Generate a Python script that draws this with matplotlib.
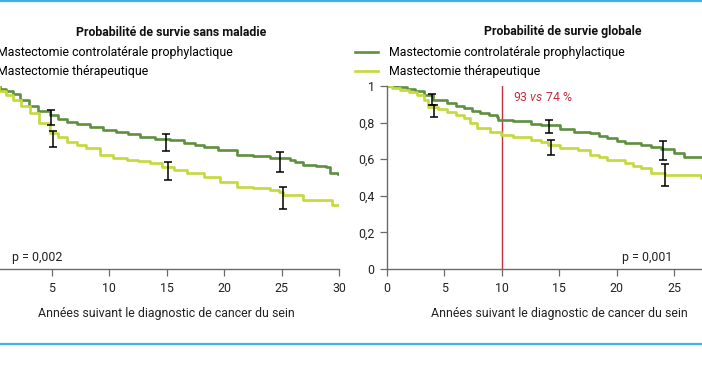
import matplotlib
matplotlib.use("Agg")
import matplotlib.pyplot as plt
from matplotlib.lines import Line2D
import numpy as np

plt.rcParams['font.family'] = ['Roboto', 'DejaVu Sans']
plt.rcParams['mathtext.fontset'] = 'custom'
plt.rcParams['mathtext.rm'] = 'Roboto'
plt.rcParams['mathtext.it'] = 'Roboto:italic'

# --- data ---
labels = ["Mastectomie controlatérale prophylactique", "Mastectomie thérapeutique"]
xticks = [0, 5, 10, 15, 20, 25, 30]
yticks = [0, 0.2, 0.4, 0.6, 0.8, 1]
ytick_labels = ["0", "0,2", "0,4", "0,6", "0,8", "1"]

# survie sans maladie
dfs_cpm_t = [0, 0.5, 1.0, 1.6, 2.2, 3.0, 3.8, 4.8, 5.5, 6.3, 7.2, 8.3, 9.4, 10.6, 11.6, 12.7,
             14.0, 15.3, 16.5, 17.5, 18.2, 19.5, 21.1, 22.5, 24.0, 25.7, 26.2, 26.9, 28.0,
             28.9, 29.2, 29.9]
dfs_cpm_s = [1.0, 0.985, 0.97, 0.955, 0.925, 0.89, 0.865, 0.842, 0.822, 0.805, 0.79, 0.778,
             0.762, 0.75, 0.735, 0.723, 0.71, 0.703, 0.69, 0.68, 0.668, 0.648, 0.625, 0.615,
             0.605, 0.596, 0.585, 0.568, 0.565, 0.556, 0.523, 0.519]
dfs_tm_t = [0, 0.4, 1.0, 1.6, 2.3, 3.1, 3.9, 4.8, 5.5, 6.3, 7.2, 8.0, 9.2, 10.3, 11.5, 12.5,
            13.5, 14.6, 15.6, 16.8, 18.2, 19.6, 21.1, 22.5, 24.0, 24.8, 25.1, 26.9, 29.4, 29.9]
dfs_tm_s = [1.0, 0.975, 0.95, 0.923, 0.89, 0.851, 0.8, 0.742, 0.72, 0.696, 0.675, 0.659,
            0.623, 0.608, 0.596, 0.588, 0.578, 0.56, 0.541, 0.525, 0.504, 0.478, 0.45, 0.44,
            0.432, 0.42, 0.404, 0.377, 0.35, 0.35]

# survie globale
os_cpm_t = [0, 0.85, 1.7, 2.4, 3.2, 4.05, 5.2, 6.0, 6.7, 7.4, 8.1, 8.9, 9.6, 9.7, 11.0, 12.5,
            13.4, 14.2, 15.1, 16.3, 17.7, 18.5, 19.2, 20.0, 20.7, 22.1, 23.0, 23.9, 25.0,
            25.9, 27.4, 27.6]
os_cpm_s = [1.0, 0.995, 0.985, 0.97, 0.951, 0.923, 0.905, 0.89, 0.878, 0.864, 0.851, 0.84,
            0.829, 0.814, 0.81, 0.79, 0.787, 0.787, 0.763, 0.747, 0.741, 0.728, 0.714, 0.7,
            0.687, 0.678, 0.665, 0.656, 0.632, 0.614, 0.61, 0.586]
os_tm_t = [0, 0.4, 1.14, 1.9, 2.6, 3.2, 3.6, 4.4, 5.2, 6.0, 6.7, 7.2, 7.8, 9.0, 9.9, 11.0,
           12.5, 13.4, 14.0, 15.1, 16.6, 17.7, 18.5, 19.2, 20.7, 21.4, 22.1, 23.0, 24.2,
           27.35, 27.6]
os_tm_s = [1.0, 0.99, 0.978, 0.965, 0.951, 0.923, 0.887, 0.875, 0.86, 0.842, 0.823, 0.8,
           0.769, 0.75, 0.732, 0.723, 0.705, 0.695, 0.678, 0.659, 0.65, 0.623, 0.61, 0.596,
           0.577, 0.565, 0.55, 0.523, 0.514, 0.496, 0.496]

# intervalles de confiance
dfs_cpm_ci_x = [4.95, 14.9, 24.9]
dfs_cpm_ci_lo = [0.787, 0.645, 0.532]
dfs_cpm_ci_hi = [0.869, 0.736, 0.641]
dfs_tm_ci_x = [5.1, 15.1, 25.1]
dfs_tm_ci_lo = [0.668, 0.486, 0.328]
dfs_tm_ci_hi = [0.754, 0.583, 0.45]
os_cpm_ci_x = [3.9, 14.1, 24.05]
os_cpm_ci_lo = [0.896, 0.741, 0.596]
os_cpm_ci_hi = [0.956, 0.814, 0.70]
os_tm_ci_x = [4.1, 14.25, 24.25]
os_tm_ci_lo = [0.832, 0.623, 0.454]
os_tm_ci_hi = [0.896, 0.705, 0.572]

dark = '#5e8f3f'
light = '#c4d93c'
red = '#c3303f'
blue = '#3fb4e2'
grey = '#6a6a6a'
fs = 8.9

W, H = 702, 370
fig = plt.figure(figsize=(W / 100, H / 100), dpi=100)


def frac(x0, y0, x1, y1):
    # pixel box (top-left origin) -> figure fraction rect
    return [x0 / W, (H - y1) / H, (x1 - x0) / W, (y1 - y0) / H]


ax1 = fig.add_axes(frac(-5.4, 86, 339, 269))
ax2 = fig.add_axes(frac(387, 86, 731.4, 269))


def style(ax):
    ax.set_xlim(0, 30)
    ax.set_ylim(0, 1)
    for s in ['top', 'right']:
        ax.spines[s].set_visible(False)
    for s in ['left', 'bottom']:
        ax.spines[s].set_color(grey)
        ax.spines[s].set_linewidth(1.0)
    ax.set_xticks(xticks)
    ax.set_yticks(yticks)
    ax.set_yticklabels(ytick_labels)
    ax.tick_params(direction='out', length=5, width=0.9, color=grey,
                   labelsize=fs, labelcolor='#222222', pad=4)
    ax.set_xlabel("Années suivant le diagnostic de cancer du sein", fontsize=fs,
                  color='#222222', labelpad=9)


def draw(ax, t1, s1, t2, s2, c1, c2):
    ax.step(t1, s1, where='post', color=dark, lw=1.9, label=labels[0])
    ax.step(t2, s2, where='post', color=light, lw=1.9, label=labels[1])
    for x, lo, hi in (c1, c2):
        lo = np.array(lo)
        hi = np.array(hi)
        mid = (lo + hi) / 2
        ax.errorbar(x, mid, yerr=[mid - lo, hi - mid], fmt='none', ecolor='black',
                    elinewidth=1.1, capsize=3.2, capthick=1.1, zorder=5)


style(ax1)
style(ax2)
# the source image is cropped: left panel's y axis and the right panel's "30" fall outside
ax1.set_xticks(xticks[1:])
ax1.tick_params(axis='y', left=False, labelleft=False)
ax2.set_xticks(xticks[:-1])

draw(ax1, dfs_cpm_t, dfs_cpm_s, dfs_tm_t, dfs_tm_s,
     (dfs_cpm_ci_x, dfs_cpm_ci_lo, dfs_cpm_ci_hi), (dfs_tm_ci_x, dfs_tm_ci_lo, dfs_tm_ci_hi))
draw(ax2, os_cpm_t, os_cpm_s, os_tm_t, os_tm_s,
     (os_cpm_ci_x, os_cpm_ci_lo, os_cpm_ci_hi), (os_tm_ci_x, os_tm_ci_lo, os_tm_ci_hi))

ax2.axvline(10, color=red, lw=1.0, zorder=1)
ax2.text(11.0, 0.938, "93 $\\mathit{vs}$ 74 %", color=red, fontsize=fs, va='center')

ax1.text(1.5, 0.062, "p = 0,002", fontsize=fs, va='center', color='#222222')
ax2.text(20.45, 0.062, "p = 0,001", fontsize=fs, va='center', color='#222222')

for ax, title, cx in ((ax1, "Probabilité de survie sans maladie", 171),
                      (ax2, "Probabilité de survie globale", 563)):
    fig.text(cx / W, (H - 32) / H, title, fontsize=fs, fontweight='bold',
             ha='center', va='center', color='#111111')
    ax.legend(loc='center left', bbox_to_anchor=(-0.093, 1.13), frameon=False,
              fontsize=fs, handlelength=1.9, handletextpad=0.85, labelspacing=0.5,
              borderaxespad=0, borderpad=0)

fig.add_artist(Line2D([0, 1], [(H - 1) / H, (H - 1) / H], color=blue, lw=1.6))
fig.add_artist(Line2D([0, 1], [(H - 344) / H, (H - 344) / H], color=blue, lw=1.6))

fig.savefig("out.png", dpi=100)
